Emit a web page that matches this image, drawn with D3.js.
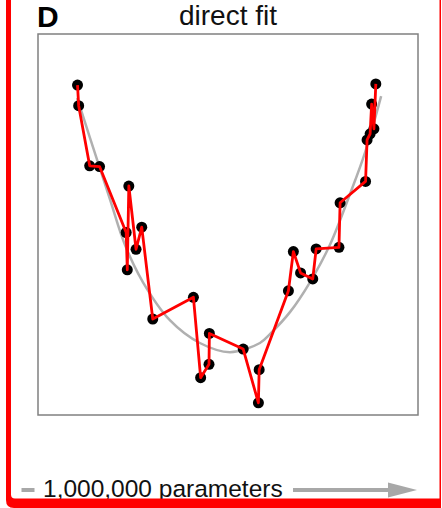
<!DOCTYPE html>
<html>
<head>
<meta charset="utf-8">
<script src="https://cdn.jsdelivr.net/npm/d3@7/dist/d3.min.js"></script>
<style>
  html, body { margin: 0; padding: 0; background: #fff; }
  svg { display: block; }
  text { font-family: "Liberation Sans", Arial, Helvetica, sans-serif; }
</style>
</head>
<body>
<svg id="chart" width="442" height="508"></svg>
<script>
// Noisy observations, in the order the red line joins them
const sampleX = [1.04, 1.07, 1.36, 1.62, 2.32, 2.35, 2.39, 2.58, 2.73, 3.02,
                 4.09, 4.28, 4.50, 4.51, 5.40, 5.80, 5.82, 6.59, 6.72, 6.91,
                 7.23, 7.32, 7.92, 7.95, 8.62, 8.66, 8.74, 8.78, 8.84, 8.89];
const sampleY = [8.66, 8.12, 6.54, 6.52, 4.79, 3.81, 6.01, 4.35, 4.93, 2.52,
                 3.09, 0.98, 1.33, 2.14, 1.73, 0.32, 1.19, 3.26, 4.29, 3.73,
                 3.57, 4.36, 4.40, 5.57, 6.13, 7.22, 7.38, 8.16, 7.51, 8.69];

// Underlying smooth trend (grey)
const trendX = [1.03, 1.37, 1.89, 2.29, 2.76, 3.47, 4.26, 5.05, 5.84, 6.11, 6.63, 7.16, 7.68, 8.21, 8.61, 9.03];
const trendY = [8.32, 7.27, 5.67, 4.46, 3.49, 2.49, 1.89, 1.65, 1.89, 2.13, 2.70, 3.49, 4.46, 5.80, 6.90, 8.37];

const panelLetter = "D";
const panelTitle = "direct fit";
const footerLabel = "1,000,000 parameters";

const svg = d3.select("#chart");
const box = { left: 38, top: 34, right: 418, bottom: 415 };

const x = d3.scaleLinear().domain([0, 10]).range([box.left, box.right]);
const y = d3.scaleLinear().domain([0, 10]).range([box.bottom, box.top]);

// Plot frame
svg.append("rect")
  .attr("x", box.left).attr("y", box.top)
  .attr("width", box.right - box.left).attr("height", box.bottom - box.top)
  .attr("fill", "#fff").attr("stroke", "#808080").attr("stroke-width", 1.5);

// Titles
svg.append("text").attr("x", 37).attr("y", 27)
  .attr("font-size", 30).attr("font-weight", "bold").attr("fill", "#000")
  .text(panelLetter);
svg.append("text").attr("x", (box.left + box.right) / 2).attr("y", 24.5)
  .attr("text-anchor", "middle").attr("font-size", 28).attr("fill", "#111")
  .text(panelTitle);

// Grey trend curve
const trend = trendX.map((v, i) => [v, trendY[i]]);
svg.append("path")
  .datum(trend)
  .attr("fill", "none").attr("stroke", "#b0b0b0").attr("stroke-width", 2.5)
  .attr("d", d3.line().x(d => x(d[0])).y(d => y(d[1])).curve(d3.curveCatmullRom.alpha(0.5)));

// Samples as dots
const samples = sampleX.map((v, i) => [v, sampleY[i]]);
svg.append("g").selectAll("circle")
  .data(samples).join("circle")
  .attr("cx", d => x(d[0])).attr("cy", d => y(d[1]))
  .attr("r", 5.5).attr("fill", "#000");

// Red line joining samples, drawn over the dots
svg.append("path")
  .datum(samples)
  .attr("fill", "none").attr("stroke", "#ff0000").attr("stroke-width", 2.8)
  .attr("stroke-linejoin", "round")
  .attr("d", d3.line().x(d => x(d[0])).y(d => y(d[1])));

// Footer: parameter count with arrow
svg.append("rect").attr("x", 21.5).attr("y", 488).attr("width", 13).attr("height", 4)
  .attr("fill", "#a8a8a8");
svg.append("text").attr("x", 43).attr("y", 497)
  .attr("font-size", 24.5).attr("fill", "#111").text(footerLabel);
svg.append("line").attr("x1", 293).attr("x2", 392).attr("y1", 490).attr("y2", 490)
  .attr("stroke", "#a8a8a8").attr("stroke-width", 4);
svg.append("path").attr("d", "M388,482.5 L417,490 L388,497.5 Z").attr("fill", "#a8a8a8");

// Red highlight border
svg.append("path")
  .attr("fill", "#ff0000").attr("fill-rule", "evenodd")
  .attr("d", "M6,-20 L441,-20 L441,508 L14,508 Q6,508 6,500 Z " +
             "M11,-20 L439.5,-20 L439.5,498.5 L15,498.5 Q11,498.5 11,494.5 Z");
</script>
</body>
</html>
